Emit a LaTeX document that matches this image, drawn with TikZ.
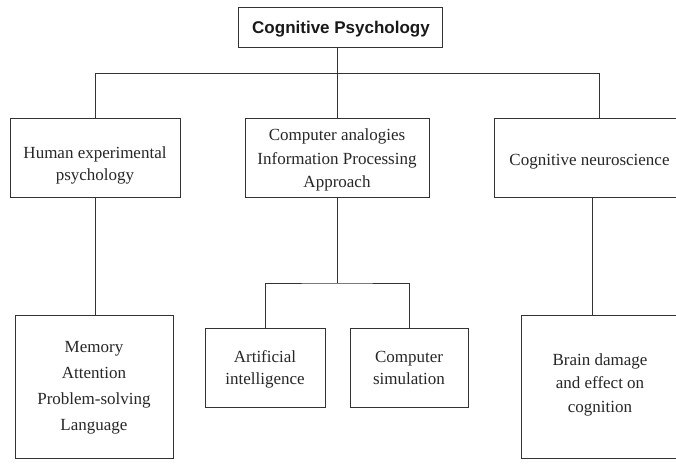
\documentclass[tikz,border=0pt]{standalone}
\usepackage{fontspec}
\setmainfont{Liberation Serif}
\newfontfamily\titlefont{Liberation Sans}
\begin{document}
\begin{tikzpicture}[x=1pt,y=1pt,
  box/.style={draw=black!80,line width=0.9pt,rectangle,inner sep=0pt},
  txt/.style={inner sep=0pt,align=center,text=black!85,font=\fontsize{17}{#1}\selectfont},
  txt/.default=23.5,
  wire/.style={draw=black!80,line width=0.9pt}]
\useasboundingbox (0,0) rectangle (676,-466);
% boxes
\node[box,minimum width=204,minimum height=40] (top) at (340,-27) {};
\node[box,minimum width=170,minimum height=79] (h1) at (95,-157.5) {};
\node[box,minimum width=184,minimum height=79] (h2) at (337,-157.5) {};
\node[box,minimum width=196,minimum height=79] (h3) at (592,-157.5) {};
\node[box,minimum width=158,minimum height=143] (mem) at (94,-386.5) {};
\node[box,minimum width=120,minimum height=79] (ai) at (265,-367.5) {};
\node[box,minimum width=118,minimum height=79] (sim) at (409,-367.5) {};
\node[box,minimum width=155,minimum height=143] (brain) at (598.5,-386.5) {};
% texts
\node[inner sep=0pt,text=black!90,font=\titlefont\bfseries\fontsize{17}{20}\selectfont] (topt) at (341,-29) {Cognitive Psychology};
\node[txt=22] (h1t) at (95,-165) {Human experimental\\psychology};
\node[txt] (h2t) at (337,-160) {Computer analogies\\Information Processing\\Approach};
\node[txt] (h3t) at (589.5,-162) {Cognitive neuroscience};
\node[txt=26] (memt) at (94,-388) {Memory\\Attention\\Problem-solving\\Language};
\node[txt=22] (ait) at (265,-369) {Artificial\\intelligence};
\node[txt=22] (simt) at (409,-367.5) {Computer\\simulation};
\node[txt] (braint) at (600,-384.5) {Brain damage\\and effect on\\cognition};
% connectors
\coordinate (bl) at (95,-73);
\coordinate (br) at (599,-73);
\coordinate (mid) at (337,-283);
\draw[wire] (h1.north) -- (bl) -- (br) -- (br |- h3.north);
\draw[wire] (top.south -| h2.north) -- (h2.north);
\draw[wire] (h1.south) -- (h1.south |- mem.north);
\draw[wire] (h2.south) -- (mid);
\draw[wire] (ai.north) |- (mid) -| (sim.north);
\draw[wire] (h3.south) -- (h3.south |- brain.north);
\end{tikzpicture}
\end{document}
